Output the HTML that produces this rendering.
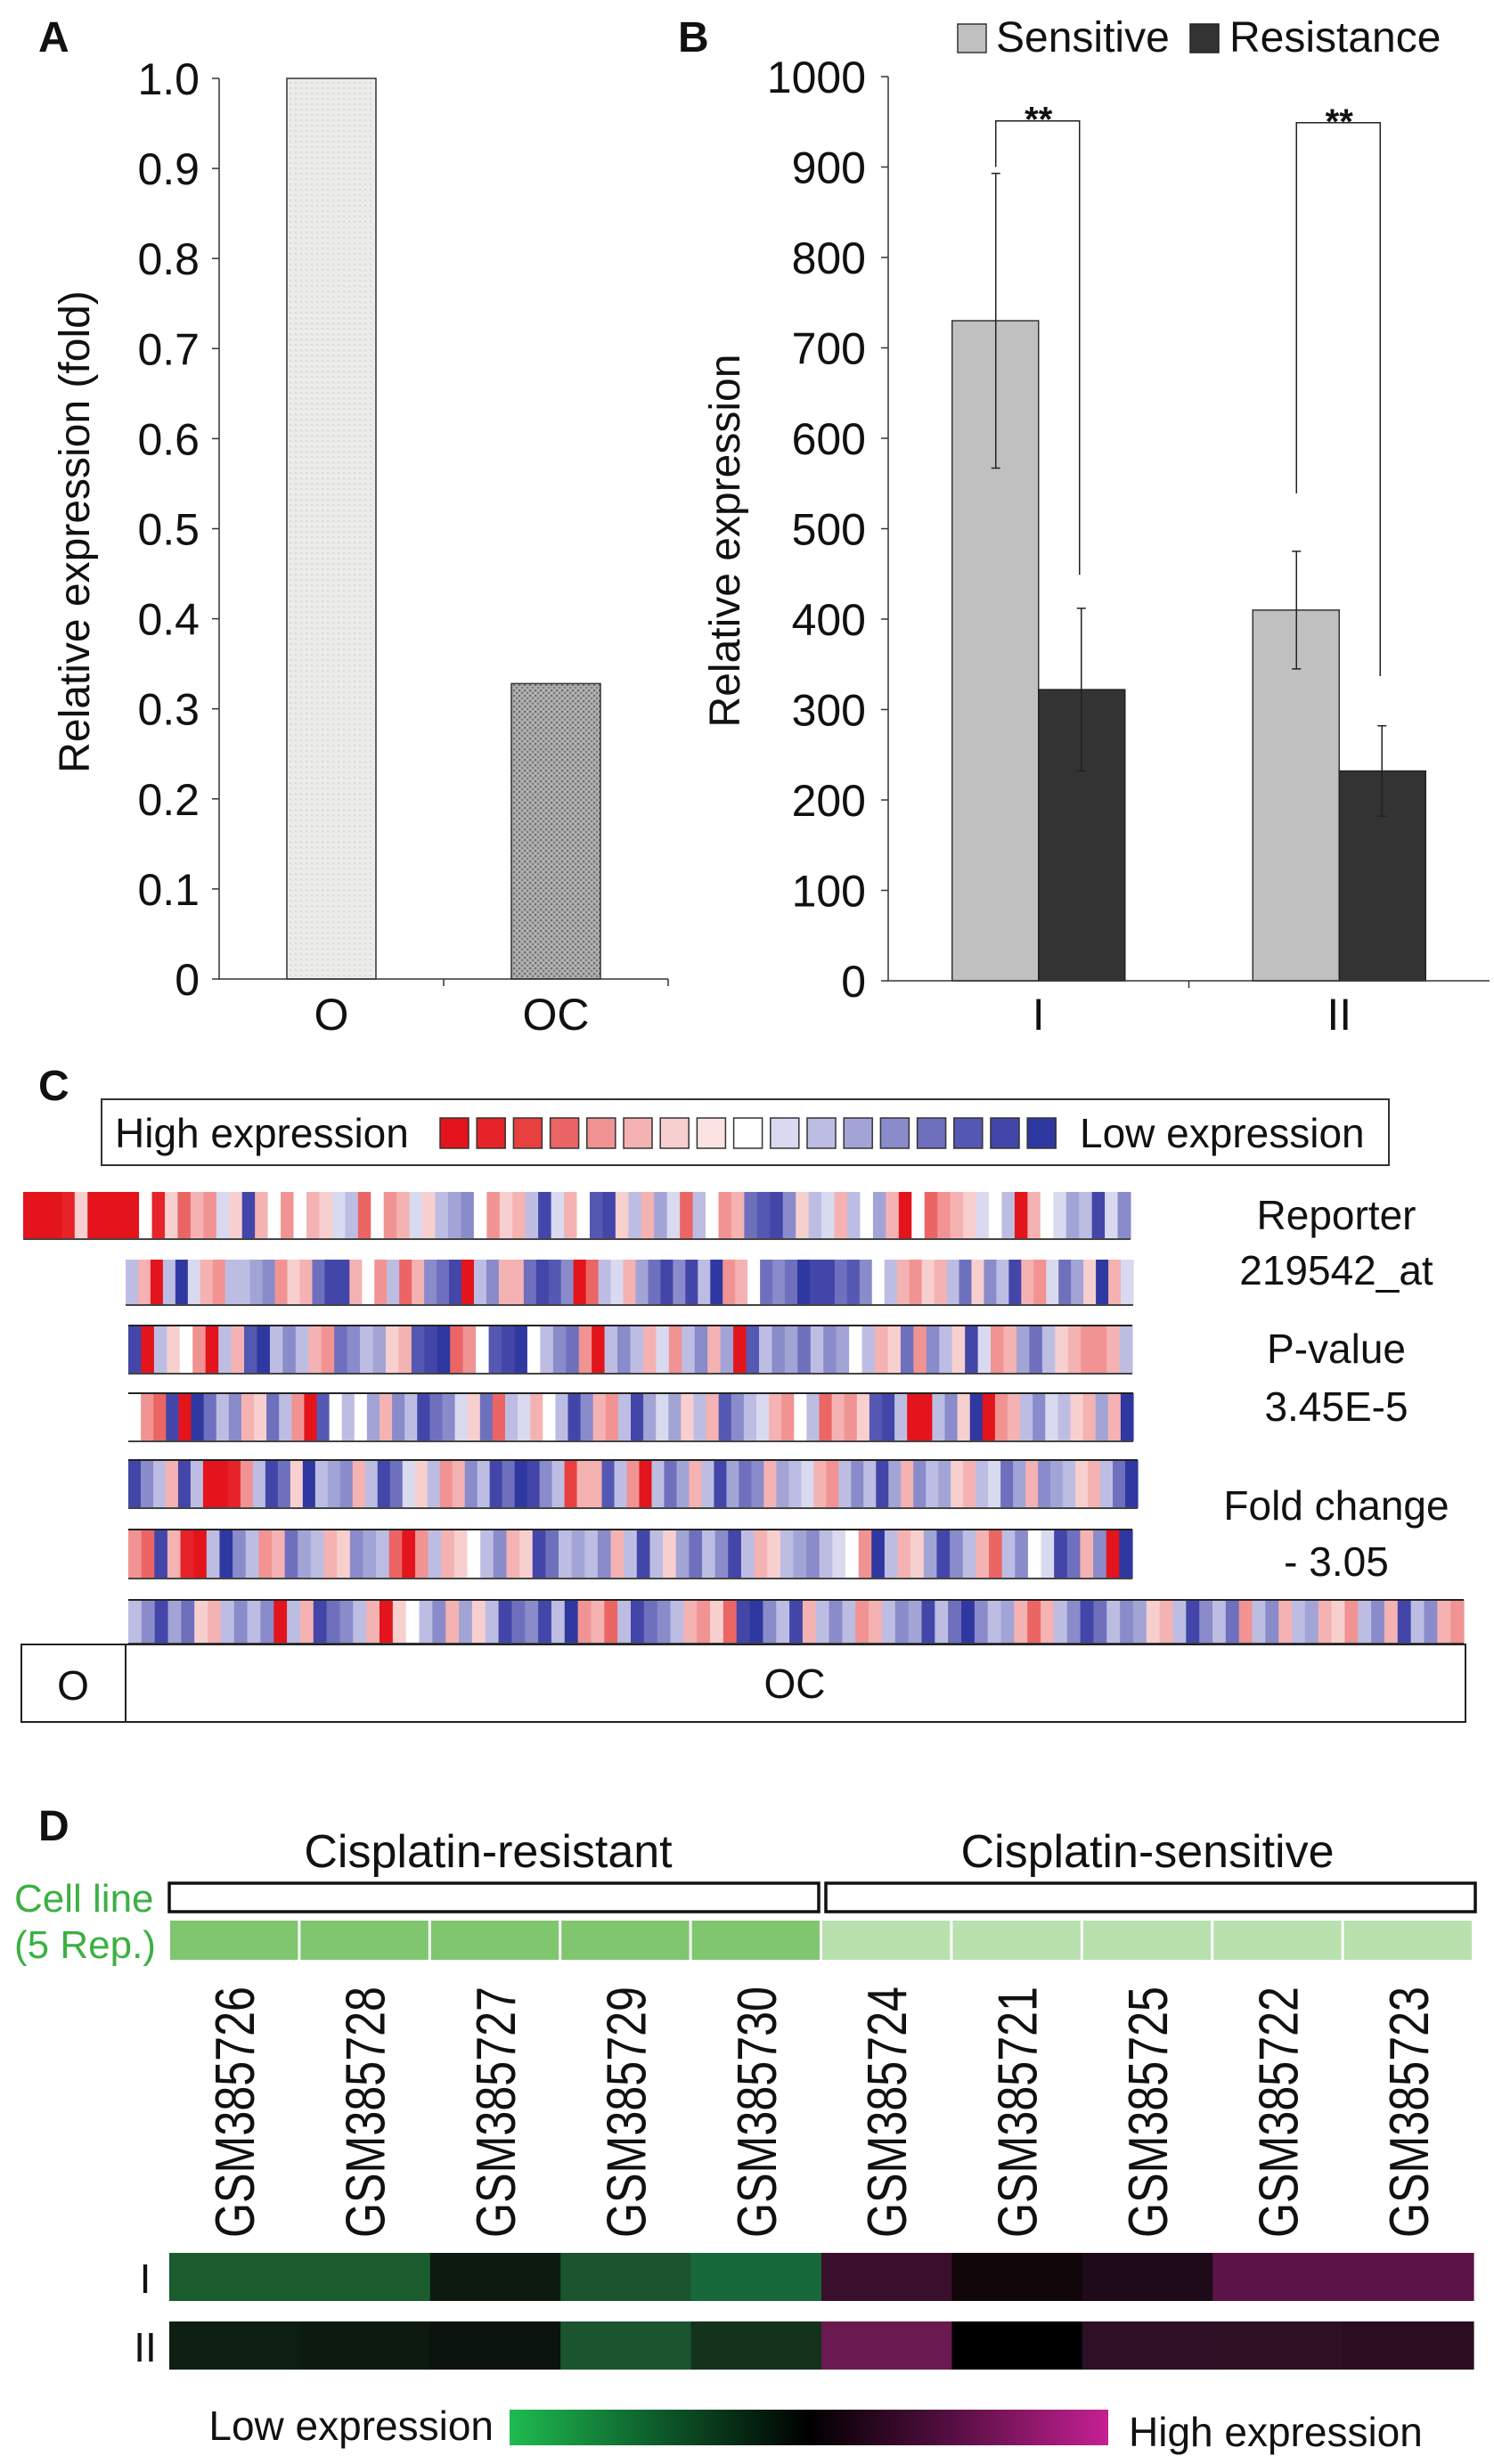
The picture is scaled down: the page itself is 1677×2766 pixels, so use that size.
<!DOCTYPE html>
<html><head><meta charset="utf-8"><style>
html,body{margin:0;padding:0;background:#fff}
svg{display:block}
text{font-family:"Liberation Sans",Arial,sans-serif;fill:#111}
</style></head><body>
<svg id="fig" width="1677" height="2766" viewBox="0 0 1677 2766" xmlns="http://www.w3.org/2000/svg">
<defs>
<pattern id="noiseO" width="6" height="6" patternUnits="userSpaceOnUse"><rect width="6" height="6" fill="#ececea"/><rect x="1" y="2" width="2" height="2" fill="#d8d8d4"/><rect x="4" y="4" width="1" height="1" fill="#dcdcd8"/></pattern>
<pattern id="noiseOC" width="6" height="6" patternUnits="userSpaceOnUse"><rect width="6" height="6" fill="#a8a8a8"/><rect x="0" y="0" width="2" height="2" fill="#6a6a6a"/><rect x="3" y="3" width="2" height="2" fill="#7a7a7a"/><rect x="4" y="0" width="1" height="1" fill="#d0d0d0"/><rect x="1" y="4" width="1" height="1" fill="#cfcfcf"/></pattern>
<linearGradient id="gD" x1="0" x2="1" y1="0" y2="0"><stop offset="0" stop-color="#1fbb50"/><stop offset="0.25" stop-color="#0d5a2a"/><stop offset="0.5" stop-color="#000"/><stop offset="0.75" stop-color="#5a0f45"/><stop offset="1" stop-color="#c52092"/></linearGradient>
</defs>
<g id="A"></g><g id="B"></g><g id="C"></g><g id="D"></g>
</svg>
<script>
// Panel A data
const catsA=["O","OC"];
const valsA=[1.0,0.328];
const ticksA=["0","0.1","0.2","0.3","0.4","0.5","0.6","0.7","0.8","0.9","1.0"];
// Panel B data
const catsB=["I","II"];
const sensB=[730,410];
const resB=[322,232];
const sensErr=[163,65];
const resErr=[90,50];
const brTop=[951,949];
const brLeft=[900,539];
const brRight=[449,337];
const ticksB=["0","100","200","300","400","500","600","700","800","900","1000"];
// Panel C data (a..h red strong->light, o white, p..w blue light->strong)
const heatRows=[
"aaabgaaaaobgdfepgvfoeofgpqdoefpgqrsoegfqvpfouvgqfrpdqoeftuvsgqpfqorfaodefgpoqafoprqvps",
"qfaqwpfeqqrsegftvvfoeqdfstvaqsfftvusadqpfrtvsvqwefotstwvvtusoqfegfqtgsqvfeptrgwfp",
"vaqgoeaqfuwqsqfetsqrgfuvwdeouvwoqsteaqsqfpeqsfrauqsrtqsroqfgtesqgvpefrtqgfeefq",
"oedvawtqsfgtqeauoqorfsqvtspgtdqpfoqvsfeqvrprgqfusqpfeoqdfeguvqaaqsgwaefqspqgfrfw",
"vsqfvqaabeqvtgwqrsfqvtpgqefsqvtwvsqcffuqeaqtrfqvrtsfrqpfeqsqvrfsqrgfqptrfsrqgfqtw",
"edvfbaqwsqeftrqfgsrqdaeqfgoqsfgvtqrqsfqvqgrtqsvqfgqrsqpoewqfgrvsqfdqsopvtfsaw",
"qsvrtgfqsqsaqfvtsqfagoqsfrgqvtsvqwefdqvtsqfegdvwsqvfqsqefqsrvqtwsqrfdfqsvtqsrgfqvsqteqsfqrfgeqsfvqsfe"
];
// Panel D data
const gsm=["GSM385726","GSM385728","GSM385727","GSM385729","GSM385730","GSM385724","GSM385721","GSM385725","GSM385722","GSM385723"];
const rowI=["#1a5c2e","#1a5c2e","#0d1a10","#1a5530","#17683a","#3a0f2c","#100508","#1e0a18","#5c1448","#5c1448"];
const rowII=["#0d1f12","#0c1a10","#0a130c","#1a5530","#14331d","#6a1a50","#000000","#2e0f26","#2e1024","#2a0d20"];
const repCol=["#7fc66f","#7fc66f","#7fc66f","#7fc66f","#7fc66f","#b8e1ae","#b8e1ae","#b8e1ae","#b8e1ae","#b8e1ae"];

const NS="http://www.w3.org/2000/svg";
function mk(p,tag,attrs,txt){const e=document.createElementNS(NS,tag);for(const k in attrs)e.setAttribute(k,attrs[k]);if(txt!==undefined)e.textContent=txt;p.appendChild(e);return e;}

// ---------- Panel A ----------
const gA=document.getElementById('A');
const yA=v=>1099-v*1011;
const axLA=246,axRA=750,bandA=(axRA-axLA)/catsA.length;
const xA=i=>axLA+bandA*(i+0.5);
let t=mk(gA,'text',{x:43,y:58,'font-size':48,'font-weight':'bold'},'A');


catsA.forEach((c,i)=>{
  const b=mk(gA,'rect',{x:xA(i)-50,y:yA(valsA[i]),width:100,height:yA(0)-yA(valsA[i]),fill:i==0?'url(#noiseO)':'url(#noiseOC)',stroke:'#333','stroke-width':1.5});
  
  
  const l=mk(gA,'text',{x:xA(i),y:1156,'font-size':50,'text-anchor':'middle'},c);
  
  
});
ticksA.forEach((s,i)=>{
  const v=i/10;
  mk(gA,'line',{x1:axLA-8,x2:axLA,y1:yA(v),y2:yA(v),stroke:'#333','stroke-width':1.5});
  const l=mk(gA,'text',{x:224,y:yA(v)+18,'font-size':50,'text-anchor':'end'},s);
  
  
});
let ax=mk(gA,'path',{d:`M${axLA},${yA(1)} V${yA(0)} H${axRA} M${(axLA+axRA)/2},${yA(0)} v8 M${axRA},${yA(0)} v8`,stroke:'#333','stroke-width':1.5,fill:'none'});


t=mk(gA,'text',{x:100,y:597,'font-size':48,'text-anchor':'middle',transform:'rotate(-90 100 597)'},'Relative expression (fold)');



// ---------- Panel B ----------
const gB=document.getElementById('B');
const yB=v=>1101-v*1.015;
const axLB=997,axRB=1672,bandB=(axRB-axLB)/catsB.length;
const xB=i=>axLB+bandB*(i+0.5);
t=mk(gB,'text',{x:761,y:58,'font-size':48,'font-weight':'bold'},'B');


ticksB.forEach((s,i)=>{
  const v=i*100;
  mk(gB,'line',{x1:axLB-8,x2:axLB,y1:yB(v),y2:yB(v),stroke:'#333','stroke-width':1.5});
  const l=mk(gB,'text',{x:972,y:yB(v)+18,'font-size':50,'text-anchor':'end'},s);
  
  
});
function errbar(g,x,v,e){mk(g,'path',{d:`M${x},${yB(v+e)} V${yB(v-e)} M${x-5},${yB(v+e)} h10 M${x-5},${yB(v-e)} h10`,stroke:'#222','stroke-width':1.5,fill:'none'});}
catsB.forEach((c,i)=>{
  const cx=xB(i);
  const s=mk(gB,'rect',{x:cx-97,y:yB(sensB[i]),width:97,height:yB(0)-yB(sensB[i]),fill:'#c0c0c0',stroke:'#333','stroke-width':1.5});
  
  
  const r=mk(gB,'rect',{x:cx,y:yB(resB[i]),width:97,height:yB(0)-yB(resB[i]),fill:'#333333',stroke:'#222','stroke-width':1.5});
  
  
  errbar(gB,cx-48,sensB[i],sensErr[i]);
  errbar(gB,cx+48,resB[i],resErr[i]);
  const br=mk(gB,'path',{d:`M${cx-48},${yB(brLeft[i])} V${yB(brTop[i])} H${cx+46} V${yB(brRight[i])}`,stroke:'#222','stroke-width':1.5,fill:'none'});
  
  
  const st=mk(gB,'text',{x:cx,y:yB(brTop[i])+12,'font-size':40,'text-anchor':'middle','font-weight':'bold'},'**');
  
  
  const l=mk(gB,'text',{x:cx,y:1156,'font-size':50,'text-anchor':'middle'},c);
  
  
});
ax=mk(gB,'path',{d:`M${axLB},${yB(1000)} V${yB(0)} H${axRB} M${(axLB+axRB)/2},${yB(0)} v8`,stroke:'#333','stroke-width':1.5,fill:'none'});


t=mk(gB,'text',{x:830,y:607,'font-size':48,'text-anchor':'middle',transform:'rotate(-90 830 607)'},'Relative expression');


let lg=mk(gB,'g',{});


let e1=mk(lg,'rect',{x:1075,y:27,width:32,height:32,fill:'#c0c0c0',stroke:'#333','stroke-width':1.5});


mk(lg,'text',{x:1118,y:58,'font-size':48},'Sensitive');
let e2=mk(lg,'rect',{x:1336,y:27,width:32,height:32,fill:'#333',stroke:'#222','stroke-width':1.5});


mk(lg,'text',{x:1380,y:58,'font-size':48},'Resistance');

// ---------- Panel C ----------
const gC=document.getElementById('C');
const reds=["#e3141b","#e52328","#e8403f","#ec6565","#f19393","#f5b2b2","#f8cfcf","#fbe3e3"];
const blues=["#d9d9ef","#bdbde3","#a3a4d6","#8a8bcb","#6e70be","#5558b2","#4346a8","#2f38a0"];
function col(ch){const r="abcdefgh".indexOf(ch);if(r>=0)return reds[r];const b="pqrstuvw".indexOf(ch);if(b>=0)return blues[b];return "#ffffff";}
t=mk(gC,'text',{x:43,y:1235,'font-size':48,'font-weight':'bold'},'C');


let lb=mk(gC,'rect',{x:114,y:1234,width:1445,height:74,fill:'#fff',stroke:'#333','stroke-width':2});


mk(gC,'text',{x:129,y:1288,'font-size':46},'High expression');
const sw=reds.concat(["#ffffff"]).concat(blues);
sw.forEach((c,i)=>{const s=mk(gC,'rect',{x:494+i*41.2,y:1255,width:32,height:34,fill:c,stroke:'#333','stroke-width':1.5});
 
 });
mk(gC,'text',{x:1212,y:1288,'font-size':46},'Low expression');
const rowBox=[[26,1269,1338,1391],[141,1272,1414,1465],[144,1271,1488,1542],[144,1272,1564,1618],[144,1277,1639,1693],[144,1271,1717,1772],[144,1643,1796,1845]];
heatRows.forEach((str,r)=>{
  const [x0,x1,y0,y1]=rowBox[r];const w=(x1-x0)/str.length;
  const g=mk(gC,'g',{});
  
  
  for(let i=0;i<str.length;i++){
    const c=mk(g,'rect',{x:x0+i*w,y:y0,width:w+0.6,height:y1-y0,fill:col(str[i])});
    
    
  }
  if(r>=2) mk(g,'line',{x1:x0,x2:x1,y1:y0,y2:y0,stroke:'#222','stroke-width':2});
  mk(g,'line',{x1:x0,x2:x1,y1:y1,y2:y1,stroke:'#444','stroke-width':2});
});
let ob=mk(gC,'path',{d:'M24,1846 H1645 V1933 H24 Z M141,1846 V1933',fill:'none',stroke:'#222','stroke-width':2});


mk(gC,'text',{x:82,y:1908,'font-size':46,'text-anchor':'middle'},'O');
mk(gC,'text',{x:892,y:1906,'font-size':46,'text-anchor':'middle'},'OC');
[["Reporter",1364],["219542_at",1426],["P-value",1514],["3.45E-5",1579],["Fold change",1690],["- 3.05",1753]].forEach(([s,y])=>{
  const l=mk(gC,'text',{x:1500,y:y+16,'font-size':46,'text-anchor':'middle'},s);
  
  
});

// ---------- Panel D ----------
const gD=document.getElementById('D');
t=mk(gD,'text',{x:43,y:2066,'font-size':48,'font-weight':'bold'},'D');


mk(gD,'text',{x:548,y:2096,'font-size':52,'text-anchor':'middle'},'Cisplatin-resistant');
mk(gD,'text',{x:1288,y:2096,'font-size':52,'text-anchor':'middle'},'Cisplatin-sensitive');
let b1=mk(gD,'rect',{x:190,y:2114,width:729,height:32,fill:'#fff',stroke:'#111','stroke-width':3.5});


let b2=mk(gD,'rect',{x:927,y:2114,width:729,height:32,fill:'#fff',stroke:'#111','stroke-width':3.5});


mk(gD,'text',{x:16,y:2146,'font-size':44,style:'fill:#3cb043'},'Cell line');
mk(gD,'text',{x:16,y:2198,'font-size':44,style:'fill:#3cb043'},'(5 Rep.)');
const dx0=190,dw=(1654-190)/gsm.length;
gsm.forEach((s,i)=>{
  const x=dx0+i*dw;
  const c=mk(gD,'rect',{x:x+1,y:2156,width:dw-3,height:44,fill:repCol[i]});
  
  
  const cx=x+dw/2+22;
  const l=mk(gD,'text',{x:cx,y:2512,'font-size':62,textLength:282,lengthAdjust:'spacingAndGlyphs',transform:`rotate(-90 ${cx} 2512)`},s);
  
  
  const a=mk(gD,'rect',{x:x,y:2529,width:dw+0.6,height:54,fill:rowI[i]});
  
  
  const b=mk(gD,'rect',{x:x,y:2606,width:dw+0.6,height:54,fill:rowII[i]});
  
  
});
mk(gD,'text',{x:163,y:2574,'font-size':46,'text-anchor':'middle'},'I');
mk(gD,'text',{x:163,y:2651,'font-size':46,'text-anchor':'middle'},'II');
let gr=mk(gD,'rect',{x:572,y:2705,width:672,height:40,fill:'url(#gD)'});


mk(gD,'text',{x:554,y:2739,'font-size':46,'text-anchor':'end'},'Low expression');
mk(gD,'text',{x:1267,y:2746,'font-size':46},'High expression');
</script>
</body></html>
